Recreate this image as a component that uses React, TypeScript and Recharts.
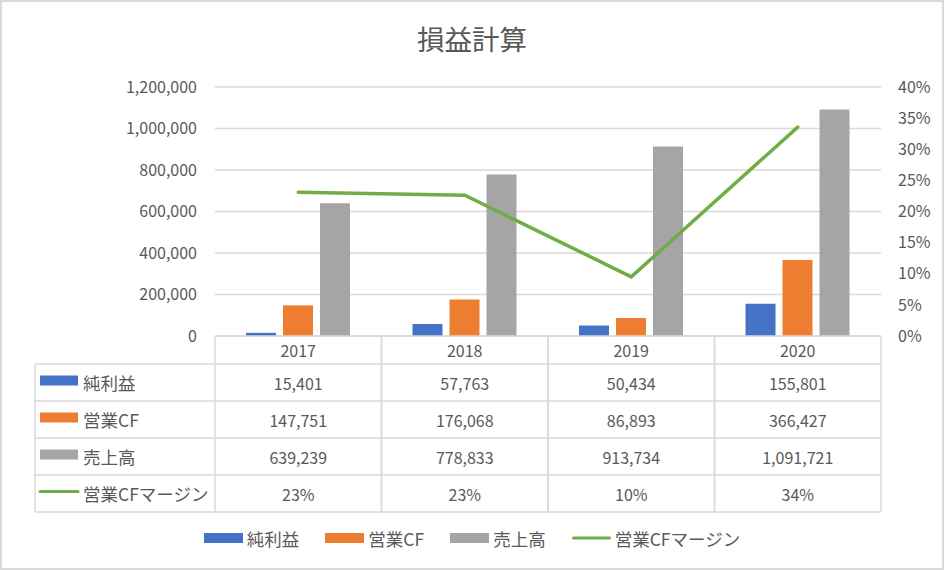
import React from "react";
import {
  ComposedChart,
  Bar,
  Line,
  XAxis,
  YAxis,
  CartesianGrid,
  Legend,
} from "recharts";

// データ（年度別）
const years = ["2017", "2018", "2019", "2020"];
const netIncome = [15401, 57763, 50434, 155801];
const operatingCF = [147751, 176068, 86893, 366427];
const sales = [639239, 778833, 913734, 1091721];
const cfMargin = [0.2311, 0.2261, 0.0951, 0.3356];

const leftTicks = [0, 200000, 400000, 600000, 800000, 1000000, 1200000];
const rightTicks = [0, 0.05, 0.1, 0.15, 0.2, 0.25, 0.3, 0.35, 0.4];

const TITLE = "損益計算";

const series = [
  { key: "netIncome", name: "純利益", values: netIncome, color: "#4472c4", kind: "bar" },
  { key: "operatingCF", name: "営業CF", values: operatingCF, color: "#ed7d31", kind: "bar" },
  { key: "sales", name: "売上高", values: sales, color: "#a5a5a5", kind: "bar" },
  { key: "cfMargin", name: "営業CFマージン", values: cfMargin, color: "#70ad47", kind: "line" },
];

const data = years.map((year, i) => ({
  year,
  netIncome: netIncome[i],
  operatingCF: operatingCF[i],
  sales: sales[i],
  cfMargin: cfMargin[i],
}));

// レイアウト
const WIDTH = 944;
const HEIGHT = 570;
const MARGIN = { top: 87, right: 13, left: 115, bottom: 0 };
const LEFT_AXIS_W = 100;
const RIGHT_AXIS_W = 50;
const XAXIS_H = 234;
const PLOT_W = WIDTH - MARGIN.left - MARGIN.right - LEFT_AXIS_W - RIGHT_AXIS_W;
const CELL_W = PLOT_W / years.length;
const TABLE_TOP = HEIGHT - MARGIN.bottom - XAXIS_H;
const HEADER_H = 28;
const ROW_H = 37;
const LABEL_LEFT = 35;
const GRID = "#d9d9d9";
const TEXT = "#595959";
const FONT = "'Noto Sans CJK JP', 'Noto Sans', sans-serif";
const LABEL_FS = 17.5;

const fmtNum = (v: number) => v.toLocaleString("en-US");
const fmtPct = (v: number) => `${Math.round(v * 100)}%`;

const Icon = ({ color, kind, x, y }: { color: string; kind: string; x: number; y: number }) =>
  kind === "line" ? (
    <line x1={x} x2={x + 38} y1={y} y2={y} stroke={color} strokeWidth={3} strokeLinecap="round" />
  ) : (
    <rect x={x} y={y - 5} width={38} height={10} fill={color} />
  );

// X軸の目盛りでデータテーブルを描く
const TableTick = (props: any) => {
  const { x, payload } = props;
  const i = years.indexOf(String(payload.value));
  const left = x - CELL_W / 2;
  const right = x + CELL_W / 2;
  const bottom = TABLE_TOP + HEADER_H + ROW_H * series.length;
  const rowTop = (r: number) => TABLE_TOP + HEADER_H + ROW_H * r;

  return (
    <g>
      <line x1={left} x2={left} y1={TABLE_TOP} y2={bottom} stroke={GRID} strokeWidth={1.5} />
      <line x1={right} x2={right} y1={TABLE_TOP} y2={bottom} stroke={GRID} strokeWidth={1.5} />
      <line x1={left} x2={right} y1={TABLE_TOP} y2={TABLE_TOP} stroke={GRID} strokeWidth={1.5} />
      {series.map((s, r) => (
        <line key={s.key} x1={left} x2={right} y1={rowTop(r)} y2={rowTop(r)} stroke={GRID} strokeWidth={1.5} />
      ))}
      <line x1={left} x2={right} y1={bottom} y2={bottom} stroke={GRID} strokeWidth={1.5} />
      <text x={x} y={TABLE_TOP + HEADER_H / 2} textAnchor="middle" dominantBaseline="central" fontSize={16} fill={TEXT}>
        {payload.value}
      </text>
      {series.map((s, r) => (
        <text
          key={s.key}
          x={x}
          y={rowTop(r) + ROW_H / 2}
          textAnchor="middle"
          dominantBaseline="central"
          fontSize={16}
          fill={TEXT}
        >
          {s.kind === "line" ? fmtPct(s.values[i]) : fmtNum(s.values[i])}
        </text>
      ))}
      {i === 0 && (
        <g>
          <line x1={LABEL_LEFT} x2={LABEL_LEFT} y1={rowTop(0)} y2={bottom} stroke={GRID} strokeWidth={1.5} />
          {series.map((s, r) => (
            <g key={s.key}>
              <line x1={LABEL_LEFT} x2={left} y1={rowTop(r)} y2={rowTop(r)} stroke={GRID} strokeWidth={1.5} />
              <Icon color={s.color} kind={s.kind} x={LABEL_LEFT + 5} y={rowTop(r) + ROW_H / 2 - 2} />
              <text
                x={LABEL_LEFT + 48}
                y={rowTop(r) + ROW_H / 2}
                dominantBaseline="central"
                fontSize={LABEL_FS}
                fill={TEXT}
              >
                {s.name}
              </text>
            </g>
          ))}
          <line x1={LABEL_LEFT} x2={left} y1={bottom} y2={bottom} stroke={GRID} strokeWidth={1.5} />
        </g>
      )}
    </g>
  );
};

const renderLegend = () => (
  <div
    style={{
      display: "flex",
      justifyContent: "center",
      alignItems: "center",
      gap: 26,
      fontSize: LABEL_FS,
      color: TEXT,
      fontFamily: FONT,
      height: 22,
    }}
  >
    {series.map((s) => (
      <div key={s.key} style={{ display: "flex", alignItems: "center" }}>
        <svg width={39} height={10} style={{ display: "block" }}>
          {s.kind === "line" ? (
            <line x1={1.5} x2={37.5} y1={5} y2={5} stroke={s.color} strokeWidth={3} strokeLinecap="round" />
          ) : (
            <rect x={0} y={0} width={39} height={10} fill={s.color} />
          )}
        </svg>
        <span style={{ marginLeft: 4 }}>{s.name}</span>
      </div>
    ))}
  </div>
);

export default function App() {
  return (
    <div
      style={{
        position: "absolute",
        left: 0,
        top: 0,
        width: WIDTH,
        height: HEIGHT,
        background: "#fff",
        fontFamily: FONT,
      }}
    >
      <div
        style={{
          position: "absolute",
          top: 22,
          left: 0,
          width: WIDTH,
          textAlign: "center",
          fontSize: 27.5,
          lineHeight: "32px",
          color: TEXT,
        }}
      >
        {TITLE}
      </div>
      <ComposedChart width={WIDTH} height={HEIGHT} data={data} margin={MARGIN} barSize={30} barGap={7}>
        <CartesianGrid yAxisId="left" vertical={false} stroke={GRID} strokeWidth={1.5} />
        <XAxis
          dataKey="year"
          height={XAXIS_H}
          axisLine={false}
          tickLine={false}
          tickSize={0}
          tickMargin={0}
          interval={0}
          tick={<TableTick />}
        />
        <YAxis
          yAxisId="left"
          width={LEFT_AXIS_W}
          domain={[0, 1200000]}
          ticks={leftTicks}
          tickFormatter={fmtNum}
          axisLine={false}
          tickLine={false}
          tickSize={16}
          tickMargin={2}
          tick={{ fontSize: 16, fill: TEXT }}
        />
        <YAxis
          yAxisId="right"
          orientation="right"
          width={RIGHT_AXIS_W}
          domain={[0, 0.4]}
          ticks={rightTicks}
          tickFormatter={fmtPct}
          axisLine={false}
          tickLine={false}
          tickSize={15}
          tickMargin={2}
          tick={{ fontSize: 16, fill: TEXT }}
        />
        {series
          .filter((s) => s.kind === "bar")
          .map((s) => (
            <Bar key={s.key} yAxisId="left" dataKey={s.key} name={s.name} fill={s.color} isAnimationActive={false} />
          ))}
        <Line
          yAxisId="right"
          dataKey="cfMargin"
          name="営業CFマージン"
          stroke="#70ad47"
          strokeWidth={3.5}
          strokeLinecap="round"
          dot={false}
          activeDot={false}
          isAnimationActive={false}
        />
        <Legend
          verticalAlign="middle"
          align="center"
          layout="horizontal"
          content={renderLegend}
          wrapperStyle={{ top: 527, left: 0, width: WIDTH, height: 22 }}
        />
      </ComposedChart>
      <div
        style={{
          position: "absolute",
          inset: 0,
          border: `2px solid ${GRID}`,
          boxSizing: "border-box",
          pointerEvents: "none",
        }}
      />
    </div>
  );
}
